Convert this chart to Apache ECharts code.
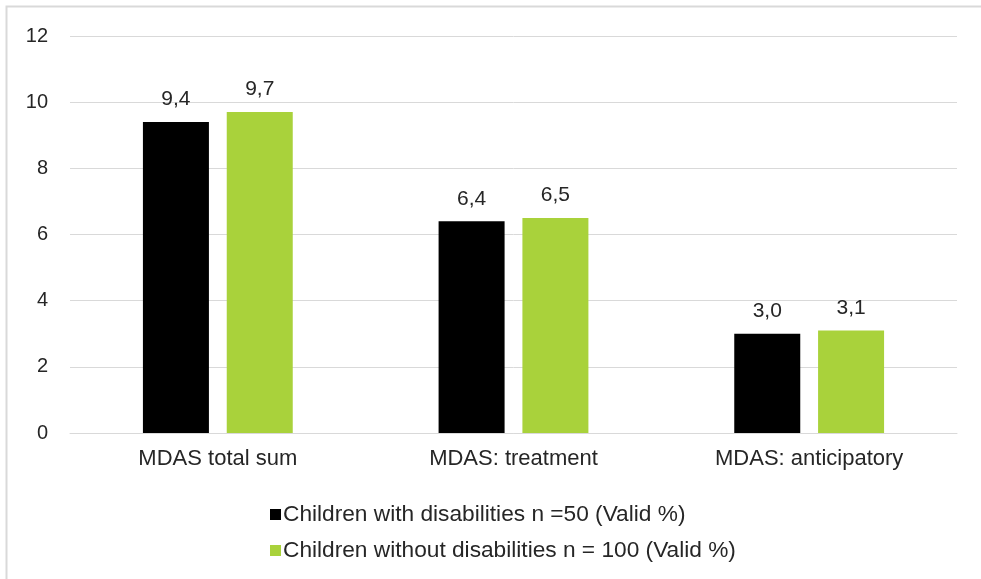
<!DOCTYPE html>
<html>
<head>
<meta charset="utf-8">
<script src="https://cdn.jsdelivr.net/npm/echarts@6/dist/echarts.min.js"></script>
<style>
  html, body { margin: 0; padding: 0; background: #fff; }
  #chart { width: 981px; height: 579px; }
</style>
</head>
<body>
<div id="chart"></div>
<script>
// MDAS scores by group
const categories = ['MDAS total sum', 'MDAS: treatment', 'MDAS: anticipatory'];
const withDisabilities = [9.4, 6.4, 3.0];
const withoutDisabilities = [9.7, 6.5, 3.1];
const seriesNames = [
  'Children with disabilities n =50 (Valid %)',
  'Children without disabilities n = 100 (Valid %)'
];

const font = 'Liberation Sans, Arial, sans-serif';
const textColor = '#262626';

const chart = echarts.init(document.getElementById('chart'));

const valueLabel = {
  show: true,
  position: 'top',
  distance: 12,
  color: textColor,
  fontFamily: font,
  fontSize: 21,
  formatter: p => p.value.toFixed(1).replace('.', ',')
};

chart.setOption({
  animation: false,
  graphic: [{
    type: 'polyline',
    shape: { points: [[6.5, 579], [6.5, 6.5], [981, 6.5]] },
    style: { stroke: '#d9d9d9', lineWidth: 2, fill: null },
    silent: true
  }],
  grid: { left: 70, right: 24, top: 36, bottom: 146 },
  legend: {
    orient: 'vertical',
    left: 270,
    top: 503,
    padding: 0,
    itemWidth: 11,
    itemHeight: 11,
    itemGap: 13,
    icon: 'rect',
    textStyle: { color: textColor, fontFamily: font, fontSize: 22.7, padding: [0, 0, 0, -3] },
    data: seriesNames
  },
  xAxis: {
    type: 'category',
    data: categories,
    axisLine: { lineStyle: { color: '#d9d9d9', width: 1 } },
    axisTick: { show: false },
    axisLabel: { color: textColor, fontFamily: font, fontSize: 22, margin: 15 }
  },
  yAxis: {
    type: 'value',
    min: 0,
    max: 12,
    interval: 2,
    axisLine: { show: false },
    axisTick: { show: false },
    splitLine: { lineStyle: { color: '#d9d9d9', width: 1 } },
    axisLabel: { color: textColor, fontFamily: font, fontSize: 20, margin: 22, align: 'right' }
  },
  series: [
    {
      name: seriesNames[0],
      type: 'bar',
      data: withDisabilities,
      barWidth: 66,
      barGap: '27%',
      itemStyle: { color: '#000000' },
      label: valueLabel
    },
    {
      name: seriesNames[1],
      type: 'bar',
      data: withoutDisabilities,
      barWidth: 66,
      itemStyle: { color: '#a9d23b' },
      label: valueLabel
    }
  ]
});
</script>
</body>
</html>
